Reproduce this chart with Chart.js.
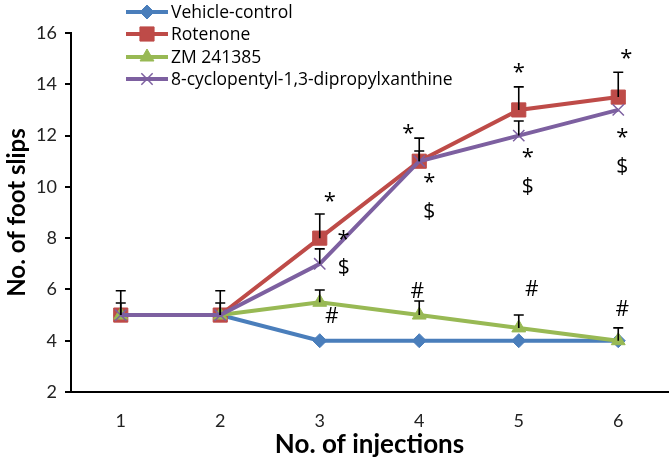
<!DOCTYPE html>
<html>
<head>
<meta charset="utf-8">
<script src="https://cdn.jsdelivr.net/npm/chart.js@4"></script>
<style>
html,body{margin:0;padding:0;background:#fff;}
#wrap{width:669px;height:460px;position:relative;}
</style>
</head>
<body>
<div id="wrap"><canvas id="c" width="669" height="460"></canvas></div>
<script>
const categories = ['1','2','3','4','5','6'];
const yTicks = [2,4,6,8,10,12,14,16];

const seriesNames = ['Vehicle-control','Rotenone','ZM 241385','8-cyclopentyl-1,3-dipropylxanthine'];
const vehicle   = [5, 5, 4, 4, 4, 4];
const rotenone  = [5, 5, 8, 11, 13, 13.5];
const zm        = [5, 5, 5.5, 5, 4.5, 4];
const dpcpx     = [5, 5, 7, 11, 12, 13];

const errVehicle  = [0, 0, 0, 0, 0, 0];
const errRotenone = [0.95, 0.95, 0.94, 0.9, 0.9, 0.97];
const errZm       = [0, 0, 0.48, 0.55, 0.5, 0.5];
const errDpcpx    = [0.47, 0.47, 0.58, 0.4, 0.57, 0];

// significance marks: position in category units, y value, symbol
const markX    = [3.10, 3.24, 3.24, 3.12, 3.89, 4.10, 4.10, 3.98, 5.00, 5.09, 5.09, 5.13, 6.08, 6.04, 6.04, 6.04];
const markY    = [9.6, 8.12, 6.84, 4.93, 12.26, 10.35, 9.02, 5.9, 14.64, 11.32, 10.0, 5.98, 15.18, 12.1, 10.78, 5.2];
const markText = ['*','*','$','#','*','*','$','#','*','*','$','#','*','*','$','#'];

const colors = ['#4a7ebb','#be4b48','#98b954','#7d60a0'];
const FONT = 'Lato, "Liberation Sans", sans-serif';
const LFONT = '"Open Sans", Lato, sans-serif';

const errs = [errVehicle, errRotenone, errZm, errDpcpx];

function catPx(xs, c){
  const p0 = xs.getPixelForValue(0), p1 = xs.getPixelForValue(1);
  return p0 + (c-1)*(p1-p0);
}

const overlay = {
  id:'overlay',
  afterDatasetsDraw(chart){
    const ctx = chart.ctx, xs = chart.scales.x, ys = chart.scales.y;
    ctx.save();
    // error bars (upper)
    ctx.strokeStyle = '#000'; ctx.lineWidth = 1.6;
    chart.data.datasets.forEach((ds, di) => {
      const e = errs[di];
      ds.data.forEach((v, i) => {
        if (!e[i]) return;
        const x = xs.getPixelForValue(i);
        const y0 = ys.getPixelForValue(v), y1 = ys.getPixelForValue(v + e[i]);
        ctx.beginPath();
        ctx.moveTo(x, y0); ctx.lineTo(x, y1);
        ctx.moveTo(x-5, y1); ctx.lineTo(x+5, y1);
        ctx.stroke();
      });
    });
    // marks
    ctx.fillStyle = '#000';
    ctx.textAlign = 'center'; ctx.textBaseline = 'middle';
    markText.forEach((t, i) => {
      const x = catPx(xs, markX[i]);
      const y = ys.getPixelForValue(markY[i]);
      if (t === '*') {
        ctx.font = '22px ' + LFONT;
        ctx.fillText(t, x, y + 5);
      } else {
        ctx.font = '21px ' + LFONT;
        ctx.fillText(t, x, y);
      }
    });
    ctx.restore();
  },
  afterDraw(chart){
    const ctx = chart.ctx;
    ctx.save();
    const rowY = [12, 34, 57, 79];
    chart.data.datasets.forEach((ds, i) => {
      const y = rowY[i];
      ctx.strokeStyle = ds.borderColor; ctx.lineWidth = 4;
      ctx.beginPath(); ctx.moveTo(126, y); ctx.lineTo(168, y); ctx.stroke();
      const opts = {pointStyle: ds.pointStyle, radius: ds.pointRadius, rotation: 0, borderWidth: ds.pointBorderWidth};
      ctx.fillStyle = ds.pointBackgroundColor; ctx.strokeStyle = ds.pointBorderColor; ctx.lineWidth = ds.pointBorderWidth;
      Chart.helpers.drawPoint(ctx, opts, 147, y);
      ctx.fillStyle = '#000';
      ctx.font = '17.5px ' + LFONT;
      ctx.textAlign = 'left'; ctx.textBaseline = 'middle';
      ctx.fillText(ds.label, 171, y + 1);
    });
    ctx.restore();
  }
};

function mk(label, data, color, style, radius, order){
  return {
    label, data, borderColor: color, backgroundColor: color,
    borderWidth: 4, pointStyle: style, pointRadius: radius, pointHoverRadius: radius,
    pointBackgroundColor: color, pointBorderColor: color,
    pointBorderWidth: style === 'crossRot' ? 1.5 : 1,
    tension: 0, order
  };
}

new Chart(document.getElementById('c'), {
  type: 'line',
  data: {
    labels: categories,
    datasets: [
      mk(seriesNames[0], vehicle, colors[0], 'rectRot', 7, 3),
      mk(seriesNames[1], rotenone, colors[1], 'rect', 10, 2),
      mk(seriesNames[2], zm, colors[2], 'triangle', 8, 1),
      mk(seriesNames[3], dpcpx, colors[3], 'crossRot', 8, 0)
    ]
  },
  options: {
    responsive: false,
    animation: false,
    layout: {autoPadding: false, padding: {top: 33, right: 1, left: 0, bottom: 0}},
    plugins: {legend: {display: false}, tooltip: {enabled: false}},
    scales: {
      x: {
        offset: true,
        grid: {display: false, offset: true},
        border: {display: true, color: '#000', width: 2},
        ticks: {color: '#222', font: {family: FONT, size: 18}, padding: 10, maxRotation: 0},
        title: {display: true, text: 'No. of injections', color: '#000',
                font: {family: FONT, size: 26, weight: 'bold'}, padding: {top: 0, bottom: 0}},
        afterFit(s){ s.height = 68; }
      },
      y: {
        min: 2, max: 16,
        afterBuildTicks(s){ s.ticks = yTicks.map(v => ({value: v})); },
        grid: {drawOnChartArea: false, drawTicks: true, tickLength: 6, color: '#000', lineWidth: 2},
        border: {display: true, color: '#000', width: 2},
        ticks: {color: '#222', font: {family: FONT, size: 18}, padding: 8},
        title: {display: true, text: 'No. of foot slips', color: '#000',
                font: {family: FONT, size: 24, weight: 'bold'}, padding: {top: 3, bottom: 0}},
        afterFit(s){ s.width = 71; }
      }
    }
  },
  plugins: [overlay]
});
</script>
</body>
</html>
